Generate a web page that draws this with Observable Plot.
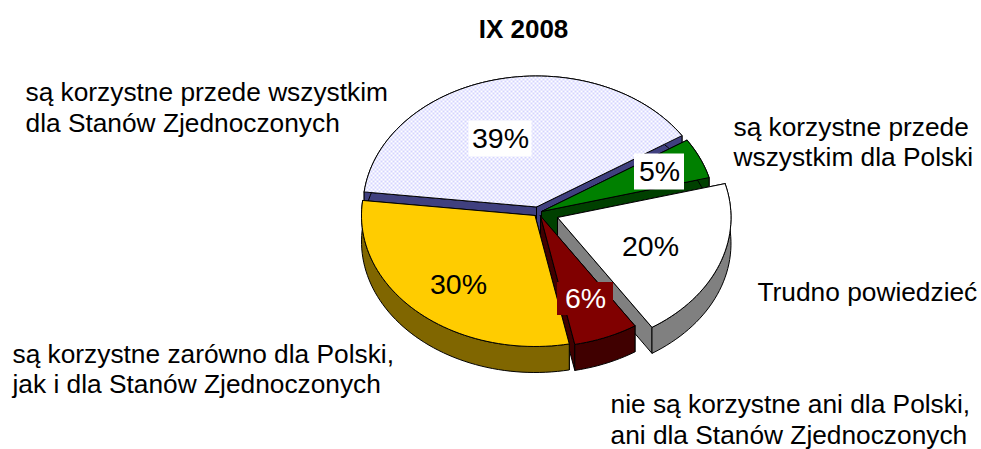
<!DOCTYPE html>
<html><head><meta charset="utf-8">
<script src="https://cdn.jsdelivr.net/npm/d3@7"></script>
<script src="https://cdn.jsdelivr.net/npm/@observablehq/plot@0.6"></script>
<style>html,body{margin:0;padding:0;background:#fff}svg{display:block}</style>
</head><body><div id="chart"></div>
<script>
const categories = ["blue","green","white","red","yellow"];
const shares = [39,5,20,6,30];
const percentLabels = ["39%","5%","20%","6%","30%"];
const chartTitle = "IX 2008";
const categoryLabels = [
  "są korzystne przede wszystkim","dla Stanów Zjednoczonych",
  "są korzystne przede","wszystkim dla Polski",
  "Trudno powiedzieć",
  "są korzystne zarówno dla Polski,","jak i dla Stanów Zjednoczonych",
  "nie są korzystne ani dla Polski,","ani dla Stanów Zjednoczonych"
];

// layout
const W = 981, H = 449, RX = 173.5, RY = 131, DEPTH = 26, START = -83.4;
const apexX = [536,541,557,540,534.5], apexY = [206.5,211,217,215.5,215];
const topFill = ["url(#dots)","#008000","#ffffff","#800000","#ffcc00"];
const sideFill = ["#40407f","#004000","#808080","#400000","#806600"];
const boxFill = ["#ffffff","#ffffff",null,"#800000",null];
const textFill = ["#000","#000","#000","#fff","#000"];
const pctX = [500,659,650,585,458], pctY = [138.5,171.5,246.5,298.5,284.5];
const boxW = [63,50,0,56,0], boxH = [36,36,0,33,0];
const labelX = [25,25,733,733,757,12,12,610,610];
const labelY = [92,123,127,157,292,354,384,404,435];

const rad = d => d*Math.PI/180;
function rim(i,a0,a1,dy=0){
  const n = Math.max(2,Math.ceil(Math.abs(a1-a0)/2)), pts=[];
  for(let k=0;k<=n;k++){
    const a = rad(a0+(a1-a0)*k/n);
    pts.push({x:apexX[i]+RX*Math.sin(a), y:apexY[i]-RY*Math.cos(a)+dy});
  }
  return pts;
}
const close = p => [...p,p[0]];
const faceMark = (pts,fill,sw=1) => Plot.line(close(pts),{x:"x",y:"y",fill,stroke:"#000",strokeWidth:sw,strokeLinejoin:"round"});

const marks = [];
let angle = START;
shares.forEach((v,i)=>{
  const a0 = angle, a1 = angle + v*3.6; angle = a1;
  const apex = {x:apexX[i],y:apexY[i]}, apexLow = {x:apexX[i],y:apexY[i]+DEPTH};
  const top = rim(i,a0,a1), low = rim(i,a0,a1,DEPTH);
  marks.push(faceMark([apex,top[0],low[0],apexLow],sideFill[i]));
  marks.push(faceMark([apex,top[top.length-1],low[low.length-1],apexLow],sideFill[i]));
  marks.push(faceMark([...top,...low.slice().reverse()],sideFill[i]));
  marks.push(faceMark([apex,...top],topFill[i]));
});
const pctRows = percentLabels.map((t,i)=>({t,x:pctX[i],y:pctY[i],w:boxW[i],h:boxH[i],box:boxFill[i],c:textFill[i]}));
pctRows.filter(d=>d.box).forEach(d=>{
  marks.push(Plot.rect([d],{x1:e=>e.x-e.w/2,x2:e=>e.x+e.w/2,y1:e=>e.y-e.h/2,y2:e=>e.y+e.h/2,fill:d.box}));
});
pctRows.forEach(d=>marks.push(Plot.text([d],{x:"x",y:"y",text:"t",fill:d.c,fontSize:28.5})));
marks.push(Plot.text(categoryLabels.map((t,i)=>({t,x:labelX[i],y:labelY[i]})),{x:"x",y:"y",text:"t",textAnchor:"start",fontSize:26.3,fill:"#000"}));
marks.push(Plot.text([chartTitle],{x:()=>523,y:()=>29,text:d=>d,fontSize:26,fontWeight:"bold",fill:"#000"}));

const chart = Plot.plot({
  width:W,height:H,margin:0,
  style:{fontFamily:"'Liberation Sans',Arial,sans-serif",background:"#fff"},
  x:{domain:[0,W],range:[0,W],axis:null},
  y:{domain:[0,H],range:[0,H],axis:null},
  marks
});
d3.select(chart).insert("defs",":first-child").html(
 '<pattern id="dots" width="4" height="4" patternUnits="userSpaceOnUse"><rect width="4" height="4" fill="#fff"/><rect width="2" height="2" fill="#d4d4ff"/><rect x="2" y="2" width="2" height="2" fill="#d4d4ff"/></pattern>');
document.getElementById("chart").append(chart);
</script></body></html>
